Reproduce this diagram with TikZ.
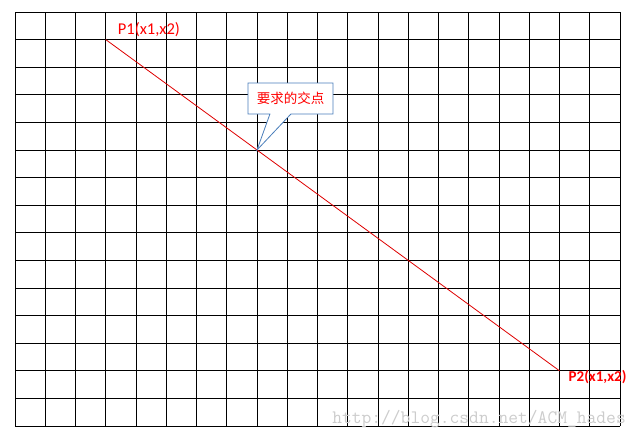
\documentclass[tikz,border=0pt]{standalone}
\usepackage{fontspec}
\setsansfont{Carlito}
\newfontfamily\cjk{Noto Sans CJK SC}
\usepackage{tikz}
\usetikzlibrary{shapes.callouts, positioning, calc}
\definecolor{calloutblue}{RGB}{74,126,187}
\definecolor{linered}{RGB}{222,0,0}

\begin{document}
\begin{tikzpicture}[
    x=1pt, y=-1pt,
    gridline/.style={black, line width=0.8pt},
    segment/.style={linered, line width=0.8pt},
    pointlabel/.style={text=red, font=\sffamily\fontsize{16.5}{16.5}\selectfont, inner sep=0pt},
    note/.style={rectangle callout, draw=calloutblue, fill=white, line width=0.8pt, text=red, font=\cjk\fontsize{13.5}{13.5}\selectfont, minimum width=85pt, minimum height=31pt, callout pointer width=21pt},
    watermark/.style={text=black!20, font=\ttfamily\fontsize{19}{19}\selectfont, inner sep=0pt}
]
\useasboundingbox (0,0) rectangle (638,439);

% Grid
\foreach \i in {0,...,20}
    \draw[gridline] (15+\i*30.25,12) -- (15+\i*30.25,426);
\foreach \j in {0,...,15}
    \draw[gridline] (15,12+\j*27.6) -- (620,12+\j*27.6);

% End points and the wanted crossing
\coordinate (P1) at (105.75,39.6);
\coordinate (P2) at (559.5,370.8);
\coordinate (X) at ($(P1)!1/3!(P2)$);

% Segment
\draw[segment] (P1) -- (P2);

% Labels
\node[pointlabel, above right=3pt and 12pt of P1] (P1label) {P1(x1,x2)};
\node[pointlabel, font=\sffamily\bfseries\fontsize{15}{15}\selectfont, below right=-1pt and 9pt of P2] (P2label) {P2(x1,x2)};

% Callout
\node[note, callout absolute pointer={(X)}] (note) at (290.5,98.5) {要求的交点};

% Watermark
\node[watermark, anchor=east] (mark) at (626,419) {http://blog.csdn.net/ACM\_hades};

\end{tikzpicture}
\end{document}
